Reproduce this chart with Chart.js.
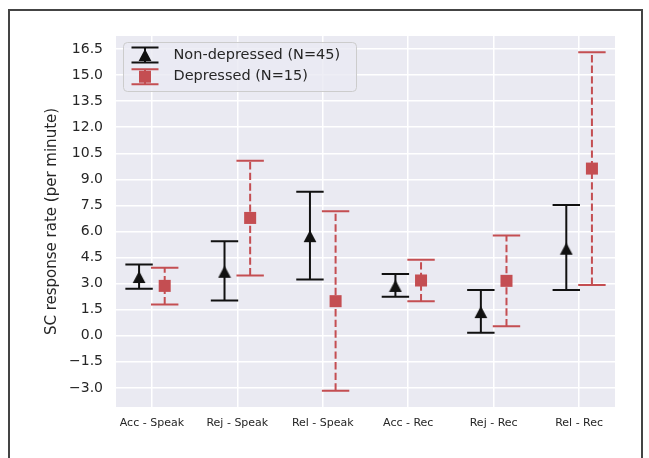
<!DOCTYPE html>
<html>
<head>
<meta charset="utf-8">
<script src="https://cdn.jsdelivr.net/npm/chart.js@4/dist/chart.umd.min.js"></script>
<style>
  html, body { margin: 0; padding: 0; background: #ffffff; }
  #wrap { position: relative; width: 649px; height: 458px; overflow: hidden; }
  #frame { position: absolute; left: 8px; top: 9px; width: 631px; height: 470px;
           border: 2px solid #444; border-bottom: none; pointer-events: none; }
  canvas { position: absolute; left: 0; top: 0; }
</style>
</head>
<body>
<div id="wrap">
  <canvas id="c" width="649" height="458"></canvas>
  <div id="frame"></div>
</div>
<script>
// ---- data ----
const categories = ['Acc - Speak', 'Rej - Speak', 'Rel - Speak', 'Acc - Rec', 'Rej - Rec', 'Rel - Rec'];
const yTicks = [-3.0, -1.5, 0.0, 1.5, 3.0, 4.5, 6.0, 7.5, 9.0, 10.5, 12.0, 13.5, 15.0, 16.5];

const nonDepLabel = 'Non-depressed (N=45)';
const nonDepMean = [3.38, 3.68, 5.73, 2.87, 1.36, 5.01];
const nonDepLow  = [2.70, 2.03, 3.24, 2.24, 0.17, 2.63];
const nonDepHigh = [4.10, 5.44, 8.28, 3.55, 2.64, 7.53];

const depLabel = 'Depressed (N=15)';
const depMean = [2.87, 6.78, 1.99, 3.18, 3.16, 9.62];
const depLow  = [1.80, 3.47, -3.16, 1.98, 0.54, 2.92];
const depHigh = [3.91, 10.07, 7.17, 4.37, 5.77, 16.32];

const groupOffset = 0.15;

// ---- styles ----
const BLACK = '#111111';
const RED = '#c44e52';
const TEXT = '#262626';
const FONT = "'DejaVu Sans', sans-serif";

function triangleImage(color) {
  const c = document.createElement('canvas');
  c.width = 14; c.height = 14;
  const g = c.getContext('2d');
  g.fillStyle = color;
  g.beginPath();
  g.moveTo(7, 1);
  g.lineTo(13.4, 13);
  g.lineTo(0.6, 13);
  g.closePath();
  g.fill();
  return c;
}
const triImg = triangleImage(BLACK);

const errInfo = [
  { low: nonDepLow, high: nonDepHigh, color: BLACK, dash: [] },
  { low: depLow, high: depHigh, color: RED, dash: [7.4, 3.2] }
];

const bgPlugin = {
  id: 'bg',
  beforeDraw(chart) {
    const { ctx, chartArea: a } = chart;
    ctx.save();
    ctx.fillStyle = '#eaeaf2';
    ctx.fillRect(a.left, a.top, a.right - a.left, a.bottom - a.top);
    ctx.restore();
  }
};

function drawErrGlyph(ctx, px, yTop, yBot, color, dash, capHalf) {
  ctx.save();
  ctx.strokeStyle = color;
  ctx.lineWidth = 2;
  ctx.setLineDash(dash);
  ctx.beginPath();
  ctx.moveTo(px, yBot);
  ctx.lineTo(px, yTop);
  ctx.stroke();
  ctx.setLineDash([]);
  ctx.beginPath();
  ctx.moveTo(px - capHalf, yTop); ctx.lineTo(px + capHalf, yTop);
  ctx.moveTo(px - capHalf, yBot); ctx.lineTo(px + capHalf, yBot);
  ctx.stroke();
  ctx.restore();
}

const errorBarPlugin = {
  id: 'errorBars',
  beforeDatasetsDraw(chart) {
    const { ctx, scales: { x, y } } = chart;
    chart.data.datasets.forEach((ds, di) => {
      const info = errInfo[di];
      ds.data.forEach((p, i) => {
        const px = x.getPixelForValue(p.x);
        drawErrGlyph(ctx, px, y.getPixelForValue(info.high[i]), y.getPixelForValue(info.low[i]),
                     info.color, info.dash, 13.7);
      });
    });
  }
};

const legendPlugin = {
  id: 'customLegend',
  afterDraw(chart) {
    const { ctx } = chart;
    const bx = 123.5, by = 42.5, bw = 233, bh = 49, r = 4;
    ctx.save();
    ctx.beginPath();
    ctx.moveTo(bx + r, by);
    ctx.arcTo(bx + bw, by, bx + bw, by + bh, r);
    ctx.arcTo(bx + bw, by + bh, bx, by + bh, r);
    ctx.arcTo(bx, by + bh, bx, by, r);
    ctx.arcTo(bx, by, bx + bw, by, r);
    ctx.closePath();
    ctx.fillStyle = 'rgba(234,234,242,0.8)';
    ctx.fill();
    ctx.strokeStyle = '#cccccc';
    ctx.lineWidth = 1;
    ctx.stroke();

    const rows = [
      { cy: 55, label: chart.data.datasets[0].label, info: errInfo[0], kind: 'tri' },
      { cy: 76.7, label: chart.data.datasets[1].label, info: errInfo[1], kind: 'sq' }
    ];
    rows.forEach(row => {
      const gx = 145;
      drawErrGlyph(ctx, gx, row.cy - 7.5, row.cy + 7.5, row.info.color, row.info.dash, 13.5);
      if (row.kind === 'tri') {
        ctx.drawImage(triImg, gx - 7, row.cy - 7);
      } else {
        ctx.fillStyle = RED;
        ctx.fillRect(gx - 6, row.cy - 6, 12, 12);
      }
      ctx.fillStyle = TEXT;
      ctx.font = "14.5px " + FONT;
      ctx.textBaseline = 'middle';
      ctx.textAlign = 'left';
      ctx.fillText(row.label, 173.5, row.cy);
    });
    ctx.restore();
  }
};

const chart = new Chart(document.getElementById('c'), {
  type: 'scatter',
  data: {
    datasets: [
      {
        label: nonDepLabel,
        data: nonDepMean.map((v, i) => ({ x: i - groupOffset, y: v })),
        pointStyle: triImg,
        pointRadius: 7,
        backgroundColor: BLACK,
        borderColor: BLACK
      },
      {
        label: depLabel,
        data: depMean.map((v, i) => ({ x: i + groupOffset, y: v })),
        pointStyle: 'rect',
        pointRadius: 8.5,
        pointBorderWidth: 0,
        backgroundColor: RED,
        borderColor: RED
      }
    ]
  },
  options: {
    responsive: false,
    animation: false,
    devicePixelRatio: 1,
    events: [],
    layout: { padding: { left: 0, right: 34, top: 36, bottom: 0 } },
    plugins: { legend: { display: false }, tooltip: { enabled: false } },
    scales: {
      x: {
        type: 'linear',
        min: -0.42,
        max: 5.42,
        afterBuildTicks: s => { s.ticks = categories.map((c, i) => ({ value: i })); },
        afterFit: s => { s.height = 51; },
        ticks: {
          callback: v => categories[v],
          color: TEXT,
          font: { family: FONT, size: 11 },
          padding: 10,
          maxRotation: 0,
          autoSkip: false
        },
        grid: { color: '#ffffff', lineWidth: 1.5, drawTicks: false },
        border: { display: false }
      },
      y: {
        type: 'linear',
        min: -4.1,
        max: 17.25,
        afterBuildTicks: s => { s.ticks = yTicks.map(v => ({ value: v })); },
        afterFit: s => { s.width = 116; },
        ticks: {
          callback: v => (v < 0 ? '\u2212' : '') + Math.abs(v).toFixed(1),
          color: TEXT,
          font: { family: FONT, size: 14 },
          padding: 13,
          autoSkip: false
        },
        title: {
          display: true,
          text: 'SC response rate (per minute)',
          color: TEXT,
          font: { family: FONT, size: 15 },
          padding: { top: 43, bottom: 0 }
        },
        grid: { color: '#ffffff', lineWidth: 1.5, drawTicks: false },
        border: { display: false }
      }
    }
  },
  plugins: [bgPlugin, errorBarPlugin, legendPlugin]
});
</script>
</body>
</html>
